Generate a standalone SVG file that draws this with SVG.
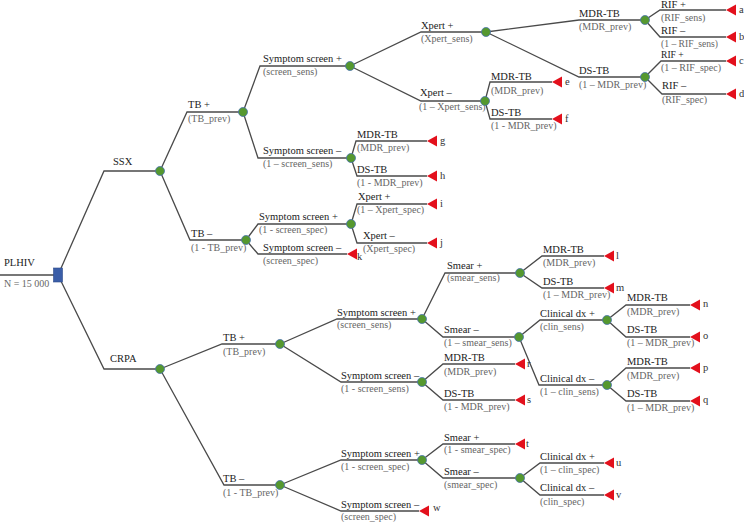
<svg xmlns="http://www.w3.org/2000/svg" xmlns:xlink="http://www.w3.org/1999/xlink" width="744" height="522" viewBox="0 0 744 522" font-family="'Liberation Serif','Times New Roman','DejaVu Serif',serif">
<style>
text{font-family:"Liberation Serif","Times New Roman","DejaVu Serif",serif;}
.lb{font-size:10.5px;fill:#222;}
.pr{font-size:10px;fill:#666;}
.sm{font-size:9.6px;}
.tl{font-size:10.5px;fill:#333;}
.e{fill:none;stroke:#4a4a4a;stroke-width:1.3;stroke-linejoin:miter;}
.c{fill:#55982f;stroke:#4a74b0;stroke-width:0.8;}
.tr{fill:#e3101c;}
</style>
<defs>
<path id="tri" d="M0,0 L10,-5.5 L10,5.5 Z"/>
</defs>
<rect width="744" height="522" fill="#fff"/>
<g id="connectors">
<polyline class="e" points="0,275 58,275"/>
<polyline class="e" points="58,275 104,171 160,171"/>
<polyline class="e" points="58,275 104,369 160,369"/>
<polyline class="e" points="160,171 187,112 243,112"/>
<polyline class="e" points="160,171 190,240 246,240"/>
<polyline class="e" points="243,112 260,66 350,66"/>
<polyline class="e" points="243,112 258,158 351,158"/>
<polyline class="e" points="350,66 421,32 486,32"/>
<polyline class="e" points="350,66 421,101 485,101"/>
<polyline class="e" points="486,32 579,20 645,20"/>
<polyline class="e" points="486,32 579,77 645,77"/>
<polyline class="e" points="645,20 660,10 726,10"/>
<polyline class="e" points="645,20 660,37 726,37"/>
<polyline class="e" points="645,77 661,61 726,61"/>
<polyline class="e" points="645,77 662,94 726,94"/>
<polyline class="e" points="485,101 490,82 552,82"/>
<polyline class="e" points="485,101 490,119 552,119"/>
<polyline class="e" points="351,158 356,141 427,141"/>
<polyline class="e" points="351,158 357,176 427,176"/>
<polyline class="e" points="246,240 258,224 351,224"/>
<polyline class="e" points="246,240 258,254 347,254"/>
<polyline class="e" points="351,224 357,204 427,204"/>
<polyline class="e" points="351,224 357,243 427,243"/>
<polyline class="e" points="160,369 222,344 280,344"/>
<polyline class="e" points="160,369 224,485 280,485"/>
<polyline class="e" points="280,344 337,319 422,319"/>
<polyline class="e" points="280,344 341,382 422,382"/>
<polyline class="e" points="422,319 445,273 520,273"/>
<polyline class="e" points="422,319 443,337 519,337"/>
<polyline class="e" points="520,273 542,256 604,256"/>
<polyline class="e" points="520,273 542,288 604,288"/>
<polyline class="e" points="519,337 540,320 607,320"/>
<polyline class="e" points="519,337 539,385 607,385"/>
<polyline class="e" points="607,320 626,305 690,305"/>
<polyline class="e" points="607,320 626,337 690,337"/>
<polyline class="e" points="607,385 626,368 690,368"/>
<polyline class="e" points="607,385 626,401 690,401"/>
<polyline class="e" points="422,382 443,364 515,364"/>
<polyline class="e" points="422,382 443,400 515,400"/>
<polyline class="e" points="280,485 341,460 422,460"/>
<polyline class="e" points="280,485 341,511 419,511"/>
<polyline class="e" points="422,460 443,444 515,444"/>
<polyline class="e" points="422,460 443,478 520,478"/>
<polyline class="e" points="520,478 540,463 604,463"/>
<polyline class="e" points="520,478 540,495 604,495"/>
</g>
<g id="branch-labels">
<text class="lb" x="113" y="165">SSX</text>
<text class="lb" x="110" y="362">CRPA</text>
<text class="lb" x="188" y="108">TB +</text><text class="pr" x="188" y="122">(TB_prev)</text>
<text class="lb" x="191" y="237">TB –</text><text class="pr" x="191" y="251">(1 - TB_prev)</text>
<text class="lb" x="263" y="62">Symptom screen +</text><text class="pr" x="263" y="75">(screen_sens)</text>
<text class="lb" x="263" y="154">Symptom screen –</text><text class="pr" x="263" y="167">(1 – screen_sens)</text>
<text class="lb" x="421" y="29">Xpert +</text><text class="pr" x="421" y="42">(Xpert_sens)</text>
<text class="lb" x="420" y="96">Xpert –</text><text class="pr" x="419" y="110">(1 – Xpert_sens)</text>
<text class="lb" x="579" y="17">MDR-TB</text><text class="pr" x="579" y="30">(MDR_prev)</text>
<text class="lb" x="579" y="74">DS-TB</text><text class="pr" x="579" y="88">(1 – MDR_prev)</text>
<text class="lb" x="661" y="8">RIF +</text><text class="pr" x="661" y="21">(RIF_sens)</text>
<text class="lb" x="661" y="34">RIF –</text><text class="pr sm" x="661" y="47">(1 – RIF_sens)</text>
<text class="lb sm" x="661" y="58">RIF +</text><text class="pr" x="661" y="71">(1 – RIF_spec)</text>
<text class="lb" x="662" y="89">RIF –</text><text class="pr" x="662" y="103">(RIF_spec)</text>
<text class="lb" x="491" y="80">MDR-TB</text><text class="pr" x="491" y="94">(MDR_prev)</text>
<text class="lb" x="491" y="116">DS-TB</text><text class="pr" x="491" y="129">(1 - MDR_prev)</text>
<text class="lb" x="357" y="138">MDR-TB</text><text class="pr" x="357" y="151">(MDR_prev)</text>
<text class="lb" x="357" y="173">DS-TB</text><text class="pr" x="357" y="186">(1 - MDR_prev)</text>
<text class="lb" x="259" y="220">Symptom screen +</text><text class="pr" x="259" y="233">(1 - screen_spec)</text>
<text class="lb" x="263" y="251">Symptom screen –</text><text class="pr" x="263" y="264">(screen_spec)</text>
<text class="lb" x="358" y="200">Xpert +</text><text class="pr" x="357" y="213">(1 – Xpert_spec)</text>
<text class="lb" x="363" y="239">Xpert –</text><text class="pr" x="363" y="252">(Xpert_spec)</text>
<text class="lb" x="223" y="341">TB +</text><text class="pr" x="223" y="355">(TB_prev)</text>
<text class="lb" x="223" y="482">TB –</text><text class="pr" x="223" y="496">(1 - TB_prev)</text>
<text class="lb" x="337" y="316">Symptom screen +</text><text class="pr" x="337" y="328">(screen_sens)</text>
<text class="lb" x="341" y="379">Symptom screen –</text><text class="pr" x="341" y="392">(1 - screen_sens)</text>
<text class="lb" x="447" y="269">Smear +</text><text class="pr" x="447" y="281">(smear_sens)</text>
<text class="lb" x="444" y="333">Smear –</text><text class="pr" x="444" y="346">(1 – smear_sens)</text>
<text class="lb" x="543" y="253">MDR-TB</text><text class="pr" x="543" y="266">(MDR_prev)</text>
<text class="lb" x="543" y="285">DS-TB</text><text class="pr" x="543" y="298">(1 – MDR_prev)</text>
<text class="lb" x="540" y="317">Clinical dx +</text><text class="pr" x="540" y="330">(clin_sens)</text>
<text class="lb" x="540" y="382">Clinical dx –</text><text class="pr" x="540" y="395">(1 – clin_sens)</text>
<text class="lb" x="627" y="301">MDR-TB</text><text class="pr" x="627" y="315">(MDR_prev)</text>
<text class="lb" x="627" y="333">DS-TB</text><text class="pr" x="627" y="346">(1 – MDR_prev)</text>
<text class="lb" x="627" y="365">MDR-TB</text><text class="pr" x="627" y="379">(MDR_prev)</text>
<text class="lb" x="627" y="397">DS-TB</text><text class="pr" x="627" y="411">(1 – MDR_prev)</text>
<text class="lb" x="444" y="361">MDR-TB</text><text class="pr" x="444" y="375">(MDR_prev)</text>
<text class="lb" x="444" y="397">DS-TB</text><text class="pr" x="444" y="410">(1 - MDR_prev)</text>
<text class="lb" x="341" y="457">Symptom screen +</text><text class="pr" x="341" y="470">(1 - screen_spec)</text>
<text class="lb" x="341" y="508">Symptom screen –</text><text class="pr" x="341" y="520">(screen_spec)</text>
<text class="lb" x="444" y="441">Smear +</text><text class="pr" x="444" y="453">(1 - smear_spec)</text>
<text class="lb" x="444" y="475">Smear –</text><text class="pr" x="444" y="488">(smear_spec)</text>
<text class="lb" x="540" y="460">Clinical dx +</text><text class="pr" x="540" y="473">(1 – clin_spec)</text>
<text class="lb" x="540" y="491">Clinical dx –</text><text class="pr" x="540" y="505">(clin_spec)</text>
</g>
<g id="root">
<rect x="53.5" y="268" width="9" height="14" fill="#3b5ea8" stroke="#2d4a8a" stroke-width="0.6"/>
<text class="lb" x="4" y="266">PLHIV</text>
<text class="pr" x="4" y="287">N = 15 000</text>
</g>
<g id="n-ssx"><circle class="c" cx="160" cy="171" r="4.5"/></g>
<g id="n-ssx-tbpos"><circle class="c" cx="243" cy="112" r="4.5"/></g>
<g id="n-ssx-tbpos-sympos"><circle class="c" cx="350" cy="66" r="4.5"/></g>
<g id="n-ssx-xpertpos"><circle class="c" cx="486" cy="32" r="4.5"/></g>
<g id="n-ssx-xpertpos-mdr"><circle class="c" cx="645" cy="20" r="4.5"/></g>
<g id="n-ssx-xpertpos-ds"><circle class="c" cx="645" cy="77" r="4.5"/></g>
<g id="n-ssx-xpertneg"><circle class="c" cx="485" cy="101" r="4.5"/></g>
<g id="n-ssx-tbpos-symneg"><circle class="c" cx="351" cy="158" r="4.5"/></g>
<g id="n-ssx-tbneg"><circle class="c" cx="246" cy="240" r="4.5"/></g>
<g id="n-ssx-tbneg-sympos"><circle class="c" cx="351" cy="224" r="4.5"/></g>
<g id="n-crpa"><circle class="c" cx="160" cy="369" r="4.5"/></g>
<g id="n-crpa-tbpos"><circle class="c" cx="280" cy="344" r="4.5"/></g>
<g id="n-crpa-tbpos-sympos"><circle class="c" cx="422" cy="319" r="4.5"/></g>
<g id="n-crpa-smearpos"><circle class="c" cx="520" cy="273" r="4.5"/></g>
<g id="n-crpa-smearneg"><circle class="c" cx="519" cy="337" r="4.5"/></g>
<g id="n-crpa-clinpos"><circle class="c" cx="607" cy="320" r="4.5"/></g>
<g id="n-crpa-clinneg"><circle class="c" cx="607" cy="385" r="4.5"/></g>
<g id="n-crpa-tbpos-symneg"><circle class="c" cx="422" cy="382" r="4.5"/></g>
<g id="n-crpa-tbneg"><circle class="c" cx="280" cy="485" r="4.5"/></g>
<g id="n-crpa-tbneg-sympos"><circle class="c" cx="422" cy="460" r="4.5"/></g>
<g id="n-crpa-tbneg-smearneg"><circle class="c" cx="520" cy="478" r="4.5"/></g>
<g id="t-a"><use href="#tri" class="tr" x="726" y="10"/><text class="tl" x="739" y="13">a</text></g>
<g id="t-b"><use href="#tri" class="tr" x="726" y="37"/><text class="tl" x="739" y="40">b</text></g>
<g id="t-c"><use href="#tri" class="tr" x="726" y="61"/><text class="tl" x="739" y="64">c</text></g>
<g id="t-d"><use href="#tri" class="tr" x="726" y="94"/><text class="tl" x="739" y="97">d</text></g>
<g id="t-e"><use href="#tri" class="tr" x="552" y="82"/><text class="tl" x="565" y="85">e</text></g>
<g id="t-f"><use href="#tri" class="tr" x="552" y="119"/><text class="tl" x="565" y="122">f</text></g>
<g id="t-g"><use href="#tri" class="tr" x="427" y="141"/><text class="tl" x="440" y="144">g</text></g>
<g id="t-h"><use href="#tri" class="tr" x="427" y="176"/><text class="tl" x="440" y="179">h</text></g>
<g id="t-i"><use href="#tri" class="tr" x="427" y="204"/><text class="tl" x="440" y="207">i</text></g>
<g id="t-j"><use href="#tri" class="tr" x="427" y="243"/><text class="tl" x="440" y="246">j</text></g>
<g id="t-k"><use href="#tri" class="tr" x="347" y="254"/><text class="tl" x="357" y="260">k</text></g>
<g id="t-l"><use href="#tri" class="tr" x="604" y="256"/><text class="tl" x="616" y="259">l</text></g>
<g id="t-m"><use href="#tri" class="tr" x="604" y="288"/><text class="tl" x="616" y="291">m</text></g>
<g id="t-n"><use href="#tri" class="tr" x="690" y="305"/><text class="tl" x="703" y="307">n</text></g>
<g id="t-o"><use href="#tri" class="tr" x="690" y="337"/><text class="tl" x="703" y="339">o</text></g>
<g id="t-p"><use href="#tri" class="tr" x="690" y="368"/><text class="tl" x="703" y="371">p</text></g>
<g id="t-q"><use href="#tri" class="tr" x="690" y="401"/><text class="tl" x="703" y="403">q</text></g>
<g id="t-r"><use href="#tri" class="tr" x="515" y="364"/><text class="tl" x="527" y="367">r</text></g>
<g id="t-s"><use href="#tri" class="tr" x="515" y="400"/><text class="tl" x="527" y="403">s</text></g>
<g id="t-t"><use href="#tri" class="tr" x="515" y="444"/><text class="tl" x="526" y="447">t</text></g>
<g id="t-u"><use href="#tri" class="tr" x="604" y="463"/><text class="tl" x="616" y="466">u</text></g>
<g id="t-v"><use href="#tri" class="tr" x="604" y="495"/><text class="tl" x="616" y="498">v</text></g>
<g id="t-w"><use href="#tri" class="tr" x="419" y="511"/><text class="tl" x="433" y="511">w</text></g>
</svg>
